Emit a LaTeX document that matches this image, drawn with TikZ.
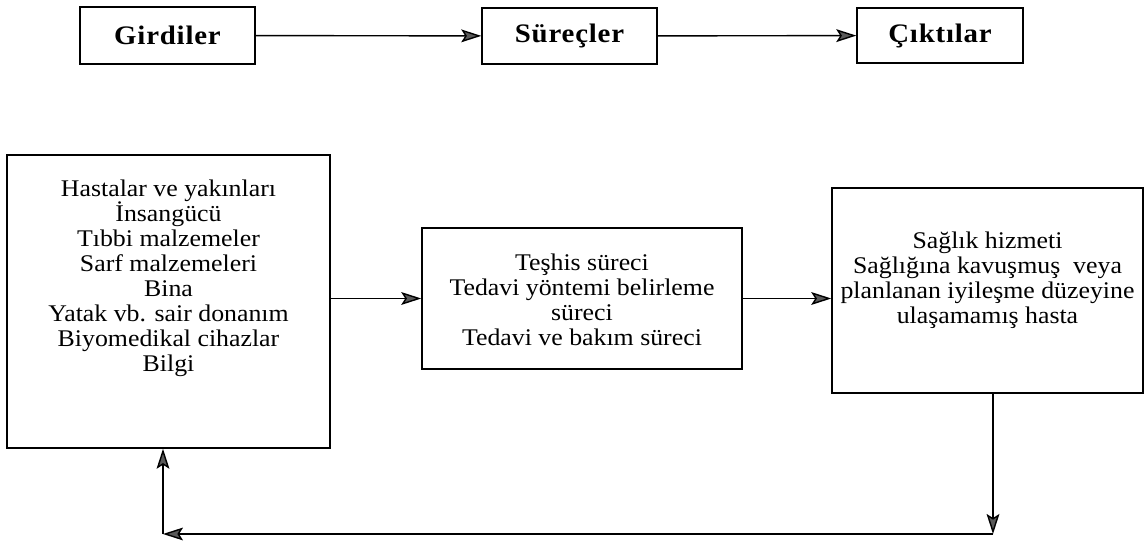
\documentclass[tikz,border=0pt]{standalone}
\usepackage{fontspec}
\setmainfont{Liberation Serif}[FakeStretch=1.08]
\usetikzlibrary{arrows.meta}

\tikzset{
    box/.style={draw, line width=1pt, inner sep=0pt},
    txt/.style={align=center, font=\fontsize{17}{17.8}\selectfont},
    head/.style={font=\fontsize{19}{20}\selectfont\bfseries\addfontfeature{LetterSpace=3}},
    arr/.style={line width=1pt, -{Stealth[length=5mm, width=3.2mm, inset=1mm, fill=gray!70!black]}}
}

\begin{document}
\begin{tikzpicture}[x=0.025cm, y=-0.025cm]
    \useasboundingbox (0,0) rectangle (1145,544);

    %(top)
    \node [box, head, minimum width=4.375cm, minimum height=1.425cm] (G) at (167.5, 35.5) {Girdiler};
    \node [box, head, minimum width=4.375cm, minimum height=1.4cm] (S) at (569.5, 36) {Süreçler};
    \node [box, head, minimum width=4.15cm, minimum height=1.375cm] (C) at (940, 35.5) {Çıktılar};
    \draw [arr] (G) -- (S);
    \draw [arr] (S) -- (C);

    %(bottom)
    \node [box, minimum width=8.075cm, minimum height=7.325cm] (inp) at (168.5, 301.5) {};
    \node [box, minimum width=8cm, minimum height=3.525cm] (proc) at (582, 298.5) {};
    \node [box, minimum width=7.775cm, minimum height=5.125cm] (out) at (987.5, 290.5) {};

    \node [txt] (inpT) at (168.5, 278) {Hastalar ve yakınları\\İnsangücü\\Tıbbi malzemeler\\Sarf malzemeleri\\Bina\\Yatak vb. sair donanım\\Biyomedikal cihazlar\\Bilgi};
    \node [txt] (procT) at (582, 300) {Teşhis süreci\\Tedavi yöntemi belirleme\\süreci\\Tedavi ve bakım süreci};
    \node [txt] (outT) at (987.5, 280) {Sağlık hizmeti\\Sağlığına kavuşmuş~ veya\\planlanan iyileşme düzeyine\\ulaşamamış hasta};

    \draw [arr] (inp.east |- proc.west) -- (proc.west);
    \draw [arr] (proc.east) -- (proc.east -| out.west);

    %(feedback)
    \coordinate (fbR) at (993, 534);
    \coordinate (fbL) at (163, 534);
    \draw [arr] (out.south -| fbR) -- (fbR);
    \draw [arr] (fbR) -- (fbL);
    \draw [arr] (fbL) -- (fbL |- inp.south);
\end{tikzpicture}
\end{document}
